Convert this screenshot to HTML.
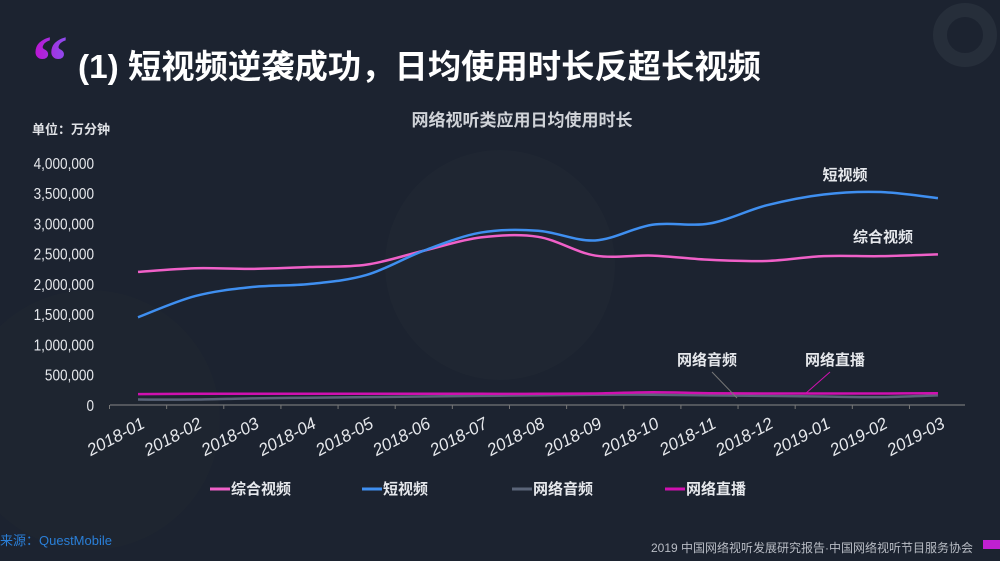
<!DOCTYPE html>
<html><head><meta charset="utf-8"><style>
body{margin:0;width:1000px;height:561px;background:#1c2330;overflow:hidden;font-family:"Liberation Sans","Noto Sans CJK SC",sans-serif}
svg{position:absolute;left:0;top:0}
</style></head><body>
<svg id="c" width="1000" height="561">
<defs><linearGradient id="qg" x1="0" x2="1"><stop offset="0" stop-color="#c010d0"/><stop offset="1" stop-color="#8a50f0"/></linearGradient></defs>
<circle cx="965" cy="35" r="25" fill="none" stroke="#262e3a" stroke-width="14"/>
<circle cx="500" cy="265" r="115" fill="#1f2632"/>
<circle cx="90" cy="420" r="130" fill="#1e2530"/>
<text x="32" y="85" font-size="72" font-weight="bold" fill="url(#qg)" font-family="Liberation Serif,serif">“</text>
<text x="78" y="78" font-size="33" font-weight="bold" fill="#fff" textLength="683" lengthAdjust="spacingAndGlyphs">(1) 短视频逆袭成功，日均使用时长反超长视频</text>
<text x="522" y="126" font-size="17" font-weight="bold" fill="#d0d3d8" text-anchor="middle">网络视听类应用日均使用时长</text>
<text x="32" y="134" font-size="13" font-weight="bold" fill="#e0e2e6">单位：万分钟</text>
<text x="0" y="545" font-size="13" fill="#2a7fd8">来源：QuestMobile</text>
<text x="973" y="552" font-size="12" fill="#b8bcc4" text-anchor="end">2019 中国网络视听发展研究报告·中国网络视听节目服务协会</text>
<rect x="983" y="540" width="17" height="9" fill="#c020d0"/>
</svg>
<script>
const categories=["2018-01","2018-02","2018-03","2018-04","2018-05","2018-06","2018-07","2018-08","2018-09","2018-10","2018-11","2018-12","2019-01","2019-02","2019-03"];
const zonghe=[2200000,2260000,2250000,2280000,2320000,2550000,2770000,2780000,2470000,2470000,2400000,2380000,2460000,2460000,2490000];
const duan=[1450000,1800000,1950000,2000000,2150000,2550000,2850000,2880000,2720000,2980000,3000000,3300000,3480000,3520000,3420000];
const yinpin=[90000,90000,110000,120000,130000,140000,150000,160000,170000,170000,160000,150000,140000,130000,160000];
const zhibo=[180000,185000,185000,185000,185000,185000,185000,185000,190000,210000,195000,190000,190000,190000,195000];
const yTicks=[0,500000,1000000,1500000,2000000,2500000,3000000,3500000,4000000];
const seriesNames=["综合视频","短视频","网络音频","网络直播"];
const svg=document.getElementById('c');const NS="http://www.w3.org/2000/svg";
const x0=138,dx=57.14,y0=405,yMax=4000000,yTop=163;
const X=i=>x0+i*dx, Y=v=>y0-(v/yMax)*(y0-yTop);
function mk(t,a,txt){const e=document.createElementNS(NS,t);for(const k in a)e.setAttribute(k,a[k]);if(txt!==undefined)e.textContent=txt;svg.appendChild(e);return e;}
yTicks.forEach(v=>{const t=mk('text',{x:94,y:Y(v)+6,'font-size':16,fill:'#e6e8ec','text-anchor':'end',transform:`translate(94 0) scale(0.85 1) translate(-94 0)`},v.toLocaleString('en-US'));

});
const ax=mk('line',{x1:110,x2:965,y1:y0,y2:y0,stroke:'#888','stroke-width':1});


categories.forEach((c,i)=>{const tk=mk('line',{x1:X(i)-28.5,x2:X(i)-28.5,y1:y0,y2:y0+4,stroke:'#777'});


const t=mk('text',{x:X(i)+8,y:y0+22,'font-size':17,fill:'#e6e8ec','text-anchor':'end',transform:`rotate(-28 ${X(i)+8} ${y0+22})`,'font-style':'italic'},c);

});
function path(d){const p=d.map((v,i)=>[X(i),Y(v)]);let s=`M${p[0][0]},${p[0][1]}`;
for(let i=0;i<p.length-1;i++){const a=p[i-1]||p[i],b=p[i],c=p[i+1],e=p[i+2]||c;
s+=` C${b[0]+(c[0]-a[0])/6},${b[1]+(c[1]-a[1])/6} ${c[0]-(e[0]-b[0])/6},${c[1]-(e[1]-b[1])/6} ${c[0]},${c[1]}`;}return s;}
const cols=['#f060c8','#3f8ff0','#5a6478','#d010b0'];
[[yinpin,2,'line-audio'],[zhibo,3,'line-live'],[zonghe,0,'line-long-video'],[duan,1,'line-short-video']].forEach(([d,k,n])=>{
const l=mk('path',{d:path(d),fill:'none',stroke:cols[k],'stroke-width':2.5});

});
[[845,180,'短视频'],[883,242,'综合视频'],[707,365,'网络音频'],[835,365,'网络直播']].forEach(([x,y,t])=>{const e=mk('text',{x,y,'font-size':15,'font-weight':'bold',fill:'#e6e8ec','text-anchor':'middle'},t);

});
const l1=mk('line',{x1:712,y1:372,x2:737,y2:398,stroke:'#777'});


const l2=mk('line',{x1:830,y1:372,x2:805,y2:394,stroke:'#d010b0'});


const lx=[210,362,512,665];
seriesNames.forEach((n,i)=>{const g=mk('line',{x1:lx[i],x2:lx[i]+20,y1:489,y2:489,stroke:cols[i],'stroke-width':3});


const t=mk('text',{x:lx[i]+21,y:494,'font-size':15,'font-weight':'bold',fill:'#e6e8ec'},n);

});
</script>
</body></html>
